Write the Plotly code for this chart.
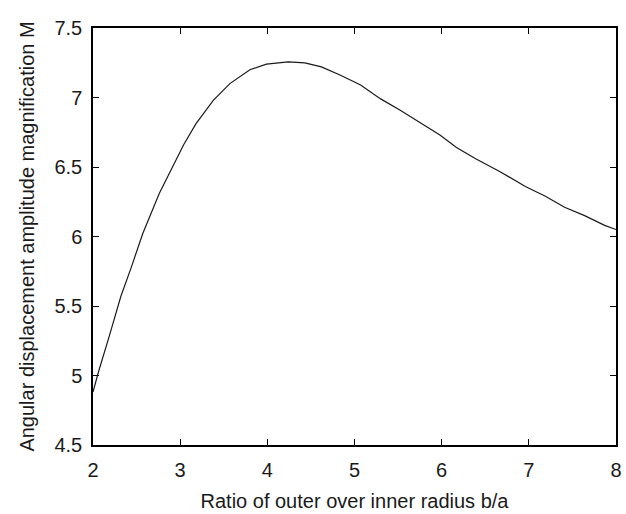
import plotly.graph_objects as go

ratio_b_over_a = [2.0, 2.06, 2.19, 2.32, 2.44, 2.57, 2.76, 2.93, 3.04, 3.18, 3.38, 3.57,
                  3.80, 3.99, 4.24, 4.43, 4.62, 4.84, 5.07, 5.30, 5.52, 5.75, 5.98, 6.17,
                  6.39, 6.66, 6.96, 7.19, 7.41, 7.64, 7.87, 8.0]
magnification_M = [4.88, 5.02, 5.29, 5.57, 5.78, 6.02, 6.31, 6.53, 6.66, 6.81, 6.98, 7.10,
                   7.20, 7.24, 7.256, 7.249, 7.22, 7.16, 7.09, 6.99, 6.91, 6.82, 6.73, 6.64,
                   6.56, 6.47, 6.36, 6.29, 6.21, 6.15, 6.08, 6.05]

x_title = "Ratio of outer over inner radius b/a"
y_title = "Angular displacement amplitude magnification M"

font_family = "Liberation Sans, Arial, Helvetica, sans-serif"

fig = go.Figure()
fig.add_trace(go.Scatter(
    x=ratio_b_over_a, y=magnification_M, mode="lines",
    line=dict(color="#1a1a1a", width=1.2), showlegend=False,
))

axis_common = dict(
    showgrid=False, zeroline=False, automargin=False,
    showline=True, linecolor="black", linewidth=1.5, mirror="ticks",
    ticks="inside", ticklen=6, tickwidth=1.2, tickcolor="black",
    ticklabeloverflow="allow",
    tickfont=dict(family=font_family, size=20, color="#1a1a1a"),
)

fig.update_layout(
    width=626, height=514,
    margin=dict(l=93, r=10, t=28, b=69),
    paper_bgcolor="white", plot_bgcolor="white",
    font=dict(family=font_family, color="#1a1a1a"),
    xaxis=dict(range=[2, 8], dtick=1, tick0=2, ticklabelstandoff=6,
               title=dict(text=x_title, font=dict(family=font_family, size=20), standoff=14),
               **axis_common),
    yaxis=dict(range=[4.5, 7.5], dtick=0.5, tick0=4.5, ticklabelstandoff=5,
               title=dict(text=y_title, font=dict(family=font_family, size=20), standoff=14),
               **axis_common),
)

fig.write_html("out.html")
